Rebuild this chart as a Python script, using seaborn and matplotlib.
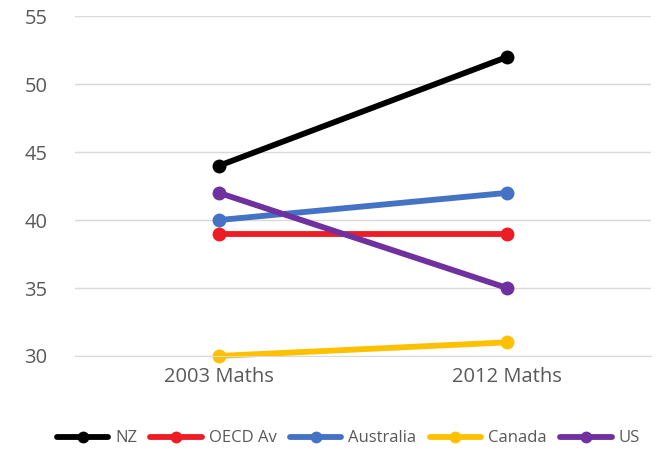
import pandas as pd
import seaborn as sns
import matplotlib.pyplot as plt

# Data
tests = ['2003 Maths', '2012 Maths']
nz = [44, 52]
oecd = [39, 39]
australia = [40, 42]
canada = [30, 31]
us = [42, 35]

series = {'NZ': nz, 'OECD Av': oecd, 'Australia': australia, 'Canada': canada, 'US': us}
colors = ['#000000', '#EE1C25', '#4472C4', '#FFC000', '#7030A0']

df = pd.DataFrame([(name, t, v) for name, vals in series.items() for t, v in zip(tests, vals)],
                  columns=['Country', 'Test', 'Score'])

sns.set_style('white')
plt.rcParams['font.family'] = ['Open Sans', 'DejaVu Sans']

fig = plt.figure(figsize=(6.65, 4.5), dpi=100)
ax = fig.add_axes([0.113, 0.209, 0.866, 0.755])

sns.lineplot(data=df, x='Test', y='Score', hue='Country', palette=colors,
             marker='o', markersize=10, linewidth=4.2, markeredgewidth=0,
             sort=False, ax=ax, clip_on=False)

ax.set_xlim(-0.5, 1.5)
ax.set_ylim(30, 55)
ax.set_yticks(range(30, 56, 5))
ax.grid(axis='y', color='#D9D9D9', linewidth=1)
ax.set_axisbelow(True)
for s in ['top', 'right', 'left']:
    ax.spines[s].set_visible(False)
ax.spines['bottom'].set_color('#D9D9D9')
ax.tick_params(axis='y', length=0, labelsize=14.5, labelcolor='#595959', pad=20)
ax.tick_params(axis='x', length=0, labelsize=14.5, labelcolor='#595959', pad=8)
ax.set_xlabel('')
ax.set_ylabel('')

ax.legend(loc='upper center', bbox_to_anchor=(0.474, -0.175), ncol=5, frameon=False,
          fontsize=12, labelcolor='#595959', handlelength=3.1, handletextpad=0.4,
          columnspacing=0.8, markerscale=0.85)

plt.savefig('out.png', dpi=100)
